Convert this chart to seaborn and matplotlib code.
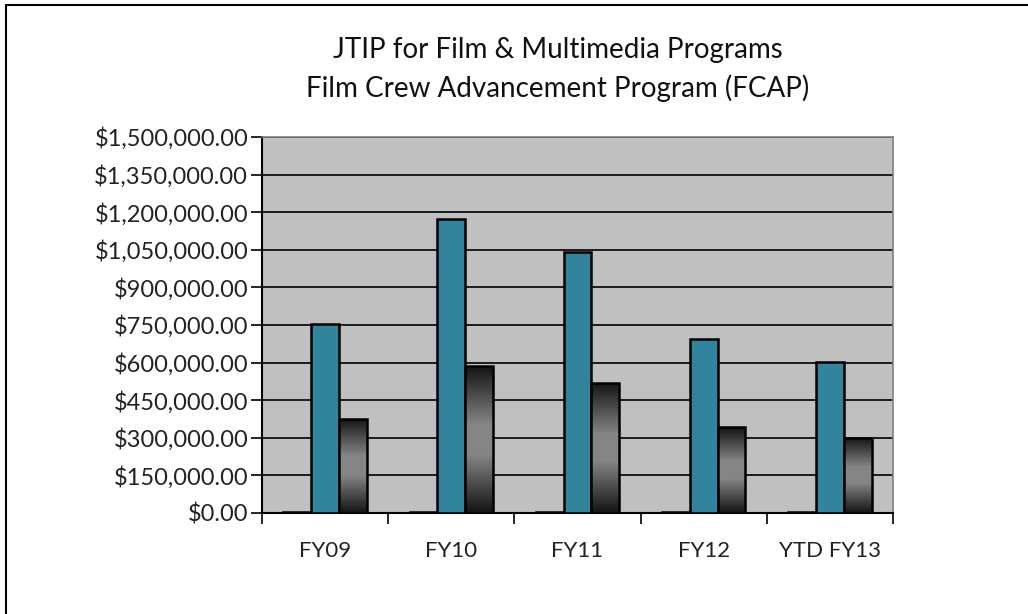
import numpy as np
import pandas as pd
import matplotlib
matplotlib.use("Agg")
import matplotlib.pyplot as plt
import seaborn as sns
from matplotlib.ticker import FuncFormatter, FixedLocator
from matplotlib.patches import Rectangle

categories = ["FY09", "FY10", "FY11", "FY12", "YTD FY13"]
series_names = ["Series 1", "Series 2", "Series 3"]
series1 = [4000, 4000, 4000, 4000, 4000]
series2 = [755000, 1173000, 1041000, 696000, 602000]
series3 = [376000, 586000, 519000, 343000, 300000]
yticks = [0, 150000, 300000, 450000, 600000, 750000, 900000, 1050000, 1200000, 1350000, 1500000]
title_lines = ["JTIP for Film & Multimedia Programs", "Film Crew Advancement Program (FCAP)"]

df = pd.DataFrame({
    "category": categories * 3,
    "series": [series_names[0]] * 5 + [series_names[1]] * 5 + [series_names[2]] * 5,
    "value": series1 + series2 + series3,
})

sns.set_theme(style="white")
plt.rcParams["font.family"] = ["Lato", "DejaVu Sans"]

fig = plt.figure(figsize=(10.28, 6.14), dpi=100)
ax = fig.add_axes([262 / 1028, 1 - 513 / 614, (893 - 262) / 1028, (513 - 137) / 614])
ax.set_facecolor("#C0C0C0")

palette = {series_names[0]: "#000000", series_names[1]: "#31849B", series_names[2]: "#808080"}
sns.barplot(data=df, x="category", y="value", hue="series", order=categories,
            hue_order=series_names, palette=palette, width=0.66, ax=ax,
            edgecolor="black", linewidth=1.8, legend=False, saturation=1, zorder=3)

# gradient fill for third series
grad = np.concatenate([np.linspace(0.08, 0.52, 40), np.full(20, 0.52), np.linspace(0.52, 0.08, 40)])
img = grad.reshape(-1, 1)
third = ax.containers[2]
for p in third.patches:
    x0, w, h = p.get_x(), p.get_width(), p.get_height()
    im = ax.imshow(img, cmap="gray", vmin=0, vmax=1, aspect="auto",
                   extent=(x0, x0 + w, 0, h), zorder=3.5, interpolation="bilinear")
    clip = Rectangle((x0, 0), w, h, transform=ax.transData)
    im.set_clip_path(clip)
    p.set_facecolor("none")
    p.set_zorder(4)

ax.set_xlim(-0.5, len(categories) - 0.5)
ax.set_ylim(0, 1500000)
ax.yaxis.set_major_locator(FixedLocator(yticks))
ax.yaxis.set_major_formatter(FuncFormatter(lambda v, pos: "${:,.2f}".format(v)))
ax.grid(axis="y", color="black", linewidth=1.2, zorder=1)
ax.set_axisbelow(True)
ax.set_xlabel("")
ax.set_ylabel("")

ax.set_xticks(range(len(categories)))
ax.set_xticklabels(categories)
ax.set_xticks(np.arange(-0.5, len(categories), 1.0), minor=True)
ax.tick_params(axis="x", which="major", length=0, pad=20, labelsize=16, labelcolor="#222222")
ax.tick_params(axis="x", which="minor", length=8, width=1.2, color="black", direction="out", bottom=True)
ax.tick_params(axis="y", which="major", length=8, width=1.2, color="black", direction="out", left=True,
               pad=2, labelsize=17, labelcolor="#222222")

for side in ["left", "bottom"]:
    ax.spines[side].set_color("black")
    ax.spines[side].set_linewidth(1.5)
for side in ["top", "right"]:
    ax.spines[side].set_color("#808080")
    ax.spines[side].set_linewidth(1.2)

fig.text(558 / 1028, 1 - 50 / 614, title_lines[0], ha="center", va="center", fontsize=20, color="#111111")
fig.text(558 / 1028, 1 - 88 / 614, title_lines[1], ha="center", va="center", fontsize=20, color="#111111")

# chart border (top and left visible)
fig.add_artist(plt.Line2D([6 / 1028, 6 / 1028], [0, 1 - 5 / 614], transform=fig.transFigure, color="black", linewidth=1.5))
fig.add_artist(plt.Line2D([6 / 1028, 1], [1 - 5 / 614, 1 - 5 / 614], transform=fig.transFigure, color="black", linewidth=1.5))

fig.savefig("out.png", dpi=100, facecolor="white")
